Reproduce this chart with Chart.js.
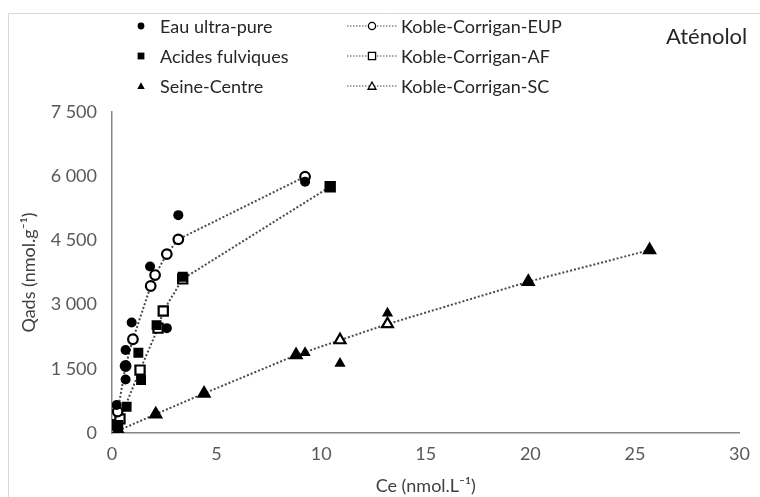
<!DOCTYPE html>
<html>
<head>
<meta charset="utf-8">
<script src="https://cdn.jsdelivr.net/npm/chart.js@4.4.0/dist/chart.umd.min.js"></script>
<style>
  html, body { margin: 0; padding: 0; background: #fff; }
  #wrap { width: 760px; height: 497px; position: relative; }
</style>
</head>
<body>
<div id="wrap"><canvas id="myChart" width="760" height="497"></canvas></div>
<script>
// measured points (Ce in nmol/L, Qads in nmol/g)
var eupX = [0.06, 0.22, 0.65, 0.65, 0.65, 0.94, 1.82, 2.62, 3.17, 9.23];
var eupY = [190, 655, 1250, 1565, 1940, 2580, 3890, 2450, 5090, 5870];
var afX = [0.3, 0.7, 1.39, 1.26, 2.13, 3.38, 10.43];
var afY = [190, 615, 1240, 1875, 2520, 3650, 5755];
var scX = [0.3, 2.09, 4.4, 8.8, 9.23, 10.9, 13.17, 19.9, 25.7];
var scY = [55, 440, 925, 1820, 1875, 1625, 2795, 3535, 4275];

// Koble-Corrigan model
var kcEupX = [0.06, 0.27, 0.65, 1.0, 1.85, 2.06, 2.62, 3.17, 9.23];
var kcEupY = [190, 500, 1565, 2190, 3435, 3690, 4180, 4525, 5990];
var kcAfX = [0.38, 1.34, 2.2, 2.45, 3.38, 10.43];
var kcAfY = [330, 1470, 2450, 2850, 3600, 5755];
var kcScX = [0.3, 2.09, 4.4, 8.8, 10.9, 13.17, 19.9, 25.7];
var kcScY = [55, 440, 925, 1820, 2170, 2545, 3535, 4275];

var xTicks = [0, 5, 10, 15, 20, 25, 30];
var yTicks = [0, 1500, 3000, 4500, 6000, 7500];

var dataNames = ['Eau ultra-pure', 'Acides fulviques', 'Seine-Centre'];
var modelNames = ['Koble-Corrigan-EUP', 'Koble-Corrigan-AF', 'Koble-Corrigan-SC'];

function pts(xs, ys) {
  return xs.map(function (x, i) { return { x: x, y: ys[i] }; });
}

function fmt(v) {
  return String(v).replace(/\B(?=(\d{3})+(?!\d))/g, ' ');
}

var FONT = 'Lato, "Open Sans", sans-serif';
var lineCol = '#4a4a4a';

function dataSet(label, xs, ys, style, radius) {
  return {
    label: label,
    data: pts(xs, ys),
    showLine: false,
    pointStyle: style,
    pointRadius: radius,
    pointBackgroundColor: '#000',
    pointBorderColor: '#000',
    pointBorderWidth: 0
  };
}

function modelSet(label, xs, ys, style, radius) {
  return {
    label: label,
    data: pts(xs, ys),
    showLine: true,
    borderColor: lineCol,
    borderWidth: 2,
    borderDash: [2, 2],
    pointStyle: style,
    pointRadius: radius,
    pointBackgroundColor: '#fff',
    pointBorderColor: '#000',
    pointBorderWidth: 2.2
  };
}

// legend + title + frame drawn by hand (2 columns, 3 rows)
var legendPlugin = {
  id: 'legendPlugin',
  afterDraw: function (chart) {
    var ctx = chart.ctx;
    ctx.save();
    ctx.strokeStyle = '#d9d9d9';
    ctx.lineWidth = 1;
    ctx.beginPath();
    ctx.moveTo(8.5, 497);
    ctx.lineTo(8.5, 13.5);
    ctx.lineTo(760, 13.5);
    ctx.stroke();

    var rows = [26, 56, 86];
    var styles = ['circle', 'rect', 'triangle'];
    ctx.font = '18px ' + FONT;
    ctx.textBaseline = 'middle';
    for (var i = 0; i < 3; i++) {
      var y = rows[i];
      marker(ctx, styles[i], 141, y, 3.4, true);
      ctx.fillStyle = '#262626';
      ctx.fillText(dataNames[i], 160, y + 1);

      ctx.strokeStyle = lineCol;
      ctx.lineWidth = 1.2;
      ctx.setLineDash([1.5, 1.5]);
      ctx.beginPath();
      ctx.moveTo(347, y);
      ctx.lineTo(397, y);
      ctx.stroke();
      ctx.setLineDash([]);
      marker(ctx, styles[i], 372, y, 3.6, false);
      ctx.fillStyle = '#262626';
      ctx.fillText(modelNames[i], 401, y + 1);
    }
    ctx.font = '22px ' + FONT;
    ctx.fillText('Aténolol', 666, 37);
    ctx.restore();
  }
};

function marker(ctx, style, x, y, r, filled) {
  ctx.beginPath();
  if (style === 'circle') {
    ctx.arc(x, y, r, 0, Math.PI * 2);
  } else if (style === 'rect') {
    ctx.rect(x - r, y - r, 2 * r, 2 * r);
  } else {
    ctx.moveTo(x, y - r * 1.1);
    ctx.lineTo(x + r * 1.1, y + r * 0.9);
    ctx.lineTo(x - r * 1.1, y + r * 0.9);
    ctx.closePath();
  }
  if (filled) {
    ctx.fillStyle = '#000';
    ctx.fill();
  } else {
    ctx.fillStyle = '#fff';
    ctx.fill();
    ctx.strokeStyle = '#000';
    ctx.lineWidth = 1.3;
    ctx.stroke();
  }
}

var config = {
  type: 'scatter',
  data: {
    datasets: [
      dataSet(dataNames[0], eupX, eupY, 'circle', 5),
      dataSet(dataNames[1], afX, afY, 'rect', 7),
      dataSet(dataNames[2], scX, scY, 'triangle', 6.5),
      modelSet(modelNames[0], kcEupX, kcEupY, 'circle', 4.8),
      modelSet(modelNames[1], kcAfX, kcAfY, 'rect', 6.5),
      modelSet(modelNames[2], kcScX, kcScY, 'triangle', 6.3)
    ]
  },
  options: {
    responsive: false,
    animation: false,
    devicePixelRatio: 1,
    layout: { padding: { top: 112, right: 19, left: 0, bottom: 0 } },
    plugins: {
      legend: { display: false },
      tooltip: { enabled: false }
    },
    scales: {
      x: {
        type: 'linear',
        min: 0,
        max: 30,
        afterBuildTicks: function (axis) {
          axis.ticks = xTicks.map(function (v) { return { value: v }; });
        },
        afterFit: function (axis) { axis.height = 64; },
        grid: { color: 'rgba(0,0,0,0)', drawTicks: false },
        border: { display: true, color: '#868686', width: 1.5 },
        ticks: { color: '#595959', font: { size: 18, family: FONT }, padding: 10, maxRotation: 0 },
        title: {
          display: true,
          text: 'Ce (nmol.L⁻¹)',
          color: '#404040',
          font: { size: 18, family: FONT },
          padding: { top: 0, bottom: 0 }
        }
      },
      y: {
        type: 'linear',
        min: 0,
        max: 7500,
        afterBuildTicks: function (axis) {
          axis.ticks = yTicks.map(function (v) { return { value: v }; });
        },
        afterFit: function (axis) { axis.width = 112; },
        grid: { color: 'rgba(0,0,0,0)', drawTicks: false },
        border: { display: true, color: '#868686', width: 1.5 },
        ticks: {
          color: '#595959',
          font: { size: 18, family: FONT },
          padding: 15,
          callback: function (v) { return fmt(v); }
        },
        title: {
          display: true,
          text: 'Qads (nmol.g⁻¹)',
          color: '#404040',
          font: { size: 18, family: FONT },
          padding: { top: 18, bottom: 0 }
        }
      }
    }
  },
  plugins: [legendPlugin]
};

// Create the chart
var myChart = new Chart(document.getElementById('myChart'), config);
</script>
</body>
</html>
